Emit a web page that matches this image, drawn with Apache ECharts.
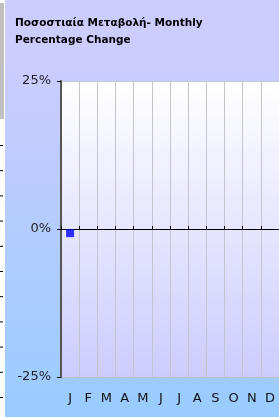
<!DOCTYPE html>
<html>
<head>
<meta charset="utf-8">
<script src="https://cdn.jsdelivr.net/npm/echarts@6/dist/echarts.min.js"></script>
<style>
    html, body {margin: 0; padding: 0; background: #fff;}
    #main {width: 279px; height: 419px;}
</style>
</head>
<body>
<div id="main"></div>
<script>
// 数据
var months = ['J', 'F', 'M', 'A', 'M', 'J', 'J', 'A', 'S', 'O', 'N', 'D'];
var changeValues = [-0.7, null, null, null, null, null, null, null, null, null, null, null];
var yMin = -25;
var yMax = 25;
var yStep = 25;
var titleText = 'Ποσοστιαία Μεταβολή- Monthly\nPercentage Change';

var myChart = echarts.init(document.getElementById('main'));

// 左边的小刻度（页面边框）
var sideTicks = [];
for (var i = 0; i < 11; i++) {
    sideTicks.push({
        type: 'line',
        shape: {x1: 0, y1: 145.5 + i * 25.2, x2: 3, y2: 145.5 + i * 25.2},
        style: {stroke: '#000', lineWidth: 1},
        silent: true
    });
}

var option = {
    backgroundColor: '#fff',
    textStyle: {fontFamily: 'DejaVu Sans'},
    title: {
        text: titleText,
        left: 15,
        top: 15,
        padding: 0,
        textStyle: {
            fontFamily: 'DejaVu Sans',
            fontSize: 10.5,
            fontWeight: 'bold',
            color: '#000',
            lineHeight: 17
        }
    },
    graphic: [
        {
            type: 'rect',
            z: -10,
            shape: {x: 5, y: 0, width: 274, height: 417},
            style: {
                fill: new echarts.graphic.LinearGradient(0, 0, 0, 1, [
                    {offset: 0, color: '#ccccff'},
                    {offset: 0.15, color: '#ccccff'},
                    {offset: 1, color: '#99ccff'}
                ])
            },
            silent: true
        },
        {
            type: 'rect',
            z: -10,
            shape: {x: 0, y: 3, width: 4, height: 116},
            style: {fill: '#c0c0c0'},
            silent: true
        }
    ].concat(sideTicks),
    grid: {
        left: 61,
        right: 0,
        top: 81,
        bottom: 42,
        show: true,
        borderWidth: 0,
        outerBoundsMode: 'none',
        backgroundColor: new echarts.graphic.LinearGradient(0, 0, 0, 1, [
            {offset: 0, color: '#ffffff'},
            {offset: 1, color: '#ccccff'}
        ])
    },
    xAxis: [
        {
            type: 'category',
            data: months,
            boundaryGap: true,
            axisLine: {onZero: false, show: false},
            axisTick: {show: false},
            axisLabel: {
                margin: 15,
                fontSize: 13,
                color: '#111',
                fontFamily: 'DejaVu Sans'
            },
            splitLine: {
                show: true,
                lineStyle: {color: '#c4c4cc', width: 1}
            }
        },
        {
            // 零线上的小刻度
            type: 'category',
            data: months,
            position: 'bottom',
            boundaryGap: true,
            axisLine: {onZero: true, lineStyle: {color: '#000', width: 1}},
            axisTick: {show: true, inside: true, length: 3, lineStyle: {color: '#000'}},
            axisLabel: {show: false},
            splitLine: {show: false}
        }
    ],
    yAxis: {
        type: 'value',
        min: yMin,
        max: yMax,
        interval: yStep,
        axisLine: {show: true, lineStyle: {color: '#555', width: 2}},
        axisTick: {show: true, length: 4, lineStyle: {color: '#000'}},
        axisLabel: {
            formatter: '{value}%',
            margin: 10,
            fontSize: 13,
            color: '#222',
            fontFamily: 'DejaVu Sans'
        },
        splitLine: {
            show: true,
            lineStyle: {color: ['#c0c0c0', '#000', '#c8c8d0']}
        }
    },
    series: [
        {
            type: 'scatter',
            xAxisIndex: 0,
            data: changeValues,
            symbol: 'rect',
            symbolSize: 8,
            itemStyle: {color: '#0000ff'},
            z: 5
        }
    ],
    animation: false
};

myChart.setOption(option);
</script>
</body>
</html>
